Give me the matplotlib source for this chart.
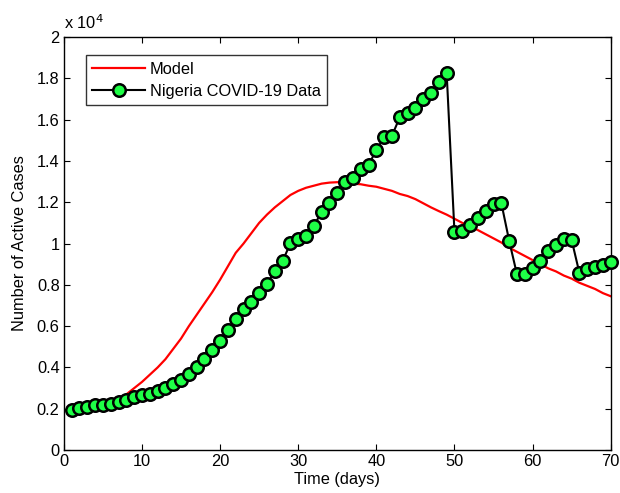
import matplotlib
matplotlib.use("Agg")
import matplotlib.pyplot as plt
from matplotlib.ticker import FuncFormatter, MultipleLocator

plt.rcParams['font.family'] = ['Liberation Sans', 'DejaVu Sans']

# Days
days = list(range(1, 71))

# Nigeria COVID-19 active cases (x 10^4)
data_cases = [
    0.194, 0.202, 0.207, 0.218, 0.218, 0.221, 0.234, 0.245, 0.255, 0.266,
    0.274, 0.284, 0.299, 0.320, 0.339, 0.370, 0.400, 0.439, 0.484, 0.527,
    0.581, 0.633, 0.681, 0.718, 0.762, 0.804, 0.868, 0.915, 1.001, 1.020,
    1.036, 1.085, 1.154, 1.195, 1.243, 1.296, 1.316, 1.359, 1.380, 1.453,
    1.514, 1.522, 1.611, 1.633, 1.658, 1.698, 1.727, 1.784, 1.827, 1.057,
    1.062, 1.090, 1.125, 1.159, 1.191, 1.196, 1.014, 0.851, 0.851, 0.880,
    0.917, 0.965, 0.993, 1.020, 1.017, 0.857, 0.875, 0.885, 0.896, 0.910,
]

# Model active cases (x 10^4)
model_cases = [
    0.190, 0.195, 0.200, 0.207, 0.215, 0.228, 0.245, 0.270, 0.300, 0.330,
    0.365, 0.400, 0.440, 0.490, 0.540, 0.600, 0.655, 0.710, 0.765, 0.825,
    0.890, 0.955, 1.000, 1.050, 1.100, 1.140, 1.175, 1.205, 1.235, 1.255,
    1.270, 1.280, 1.290, 1.295, 1.297, 1.295, 1.290, 1.287, 1.280, 1.275,
    1.265, 1.255, 1.240, 1.230, 1.215, 1.195, 1.175, 1.157, 1.140, 1.120,
    1.100, 1.085, 1.065, 1.045, 1.025, 1.005, 0.980, 0.960, 0.940, 0.920,
    0.900, 0.880, 0.865, 0.845, 0.830, 0.810, 0.795, 0.780, 0.760, 0.745,
]

FS = 11.8

fig = plt.figure(figsize=(6.2, 4.93), dpi=100)
ax = fig.add_axes([0.103, 0.087, 0.882, 0.838])

ax.plot(days, model_cases, color='#ff0000', lw=1.6, label='Model', zorder=2)
ax.plot(days, data_cases, color='black', lw=1.5, marker='o', markersize=9,
        markerfacecolor='#1eff46', markeredgecolor='black', markeredgewidth=1.8,
        label='Nigeria COVID-19 Data', zorder=3, clip_on=False)

ax.set_xlim(0, 70)
ax.set_ylim(0, 2)
ax.xaxis.set_major_locator(MultipleLocator(10))
ax.yaxis.set_major_locator(MultipleLocator(0.2))
ax.yaxis.set_major_formatter(FuncFormatter(lambda v, p: '%g' % round(v, 2)))
ax.tick_params(direction='in', top=True, right=True, labelsize=FS,
               length=4.5, width=0.8, pad=3)
for s in ax.spines.values():
    s.set_linewidth(1.0)

ax.set_xlabel('Time (days)', fontsize=FS, labelpad=2)
ax.set_ylabel('Number of Active Cases', fontsize=FS, labelpad=7)
ax.text(0.0, 1.012, r'x 10$^4$', transform=ax.transAxes, fontsize=FS,
        ha='left', va='bottom')

leg = ax.legend(loc='upper left', bbox_to_anchor=(0.025, 0.975), fontsize=FS,
                frameon=True, fancybox=False, edgecolor='black',
                handlelength=3.2, borderpad=0.4, labelspacing=0.4,
                handletextpad=0.3)
leg.get_frame().set_linewidth(1.0)

fig.savefig('out.png', dpi=100)
